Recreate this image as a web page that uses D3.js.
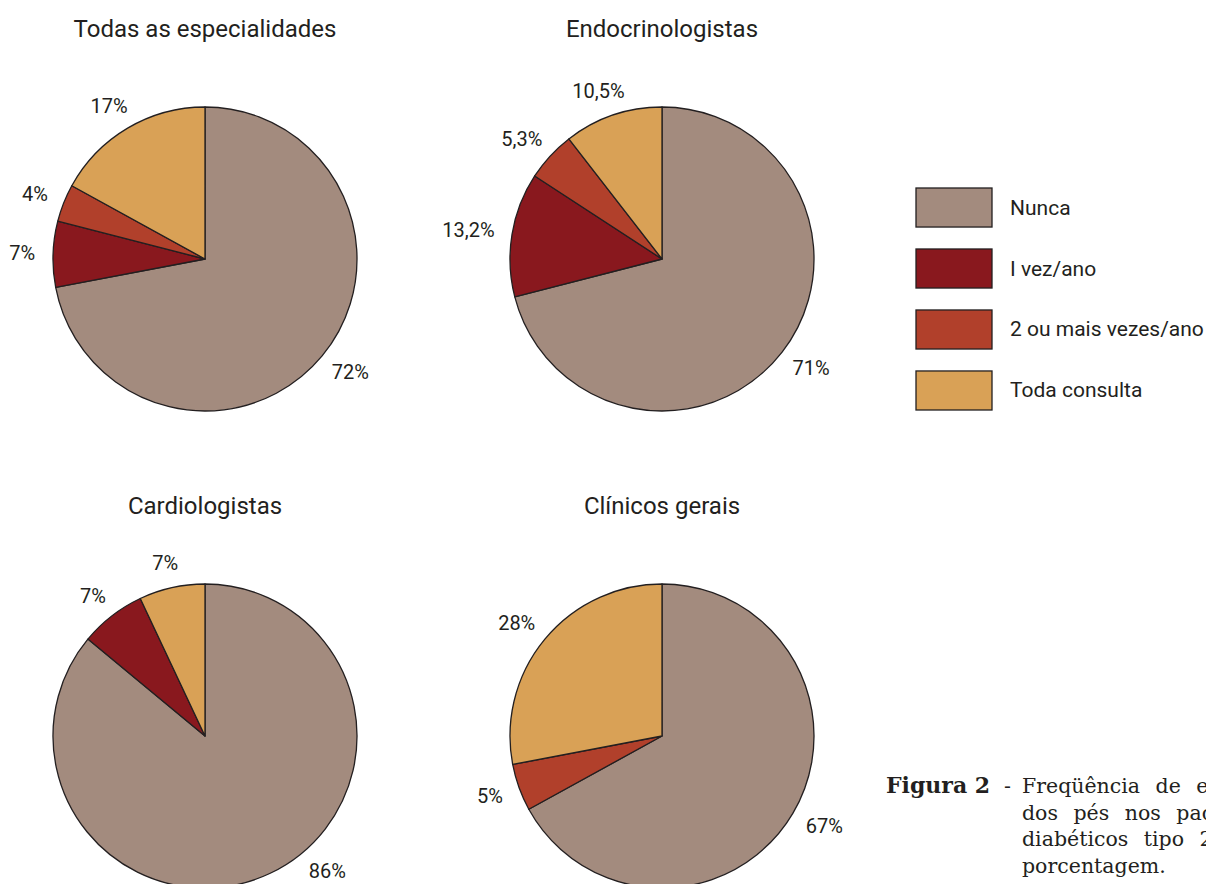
<!DOCTYPE html>
<html>
<head>
<meta charset="utf-8">
<script src="https://cdn.jsdelivr.net/npm/d3@7"></script>
<style>
  html, body { margin: 0; padding: 0; background: #fff; overflow: hidden; }
  svg { display: block; }
</style>
</head>
<body>
<svg id="chart" width="1206" height="884"></svg>
<script>
// ---- data ----
const categories = ["Nunca", "I vez/ano", "2 ou mais vezes/ano", "Toda consulta"];
const categoryColors = ["#A38B7E", "#89181E", "#B1402B", "#D9A156"];
const panelTitles = ["Todas as especialidades", "Endocrinologistas", "Cardiologistas", "Clínicos gerais"];
const valuesTodas = [72, 7, 4, 17];
const valuesEndocrino = [71, 13.2, 5.3, 10.5];
const valuesCardio = [86, 7, 0, 7];
const valuesClinicos = [67, 0, 5, 28];
const captionLabel = "Figura 2";
const captionLines = ["Freqüência de exame", "dos pés nos pacientes", "diabéticos tipo 2, em", "porcentagem."];

const panels = [valuesTodas, valuesEndocrino, valuesCardio, valuesClinicos]
  .map((v, i) => ({ title: panelTitles[i], values: v, col: i % 2, row: Math.floor(i / 2) }));

// ---- layout ----
const W = 1206, H = 884;
const svg = d3.select("#chart");
const sansFont = "Roboto, 'Liberation Sans', 'DejaVu Sans', sans-serif";
const serifFont = "'DejaVu Serif', 'Liberation Serif', serif";
const ink = "#231F20";

const xCol = d3.scalePoint().domain([0, 1]).range([205, 662]);
const yRow = d3.scalePoint().domain([0, 1]).range([259, 736]);
const radius = 152;
const labelR = 170;

const color = d3.scaleOrdinal().domain(categories).range(categoryColors);
const pie = d3.pie().sort(null).value(d => d.value);
const arc = d3.arc().innerRadius(0).outerRadius(radius);
const fmt = v => (Number.isInteger(v) ? String(v) : d3.format(".1f")(v).replace(".", ",")) + "%";

panels.forEach(p => {
  const cx = xCol(p.col), cy = yRow(p.row);
  const g = svg.append("g").attr("transform", `translate(${cx},${cy})`);

  svg.append("text")
    .attr("x", cx).attr("y", cy - 222)
    .attr("text-anchor", "middle")
    .attr("font-family", sansFont).attr("font-size", 24)
    .attr("fill", ink)
    .text(p.title);

  const data = pie(categories.map((c, i) => ({ cat: c, value: p.values[i] })));

  g.selectAll("path")
    .data(data.filter(d => d.data.value > 0))
    .join("path")
    .attr("d", arc)
    .attr("fill", d => color(d.data.cat))
    .attr("stroke", ink)
    .attr("stroke-width", 1.3)
    .attr("stroke-linejoin", "round");

  const labels = g.selectAll("text.lbl")
    .data(data.filter(d => d.data.value > 0))
    .join("text")
    .attr("class", "lbl")
    .attr("font-family", sansFont).attr("font-size", 20)
    .attr("fill", ink)
    .attr("text-anchor", "middle")
    .attr("dominant-baseline", "central")
    .text(d => fmt(d.data.value));

  const h = 15;
  const maxDy = H - 13 - cy; // keep labels inside the picture
  labels.each(function(d) {
    let a = (d.startAngle + d.endAngle) / 2;
    const w = this.getComputedTextLength();
    // rotate label toward horizontal if it would fall below the picture
    const dist = labelR + h / 2;
    if (-Math.cos(a) * dist > maxDy) {
      const c = -maxDy / dist;
      a = a < Math.PI ? Math.acos(c) : 2 * Math.PI - Math.acos(c);
    }
    const x = Math.sin(a) * labelR + (w / 2) * Math.sin(a);
    const y = -Math.cos(a) * labelR - (h / 2) * Math.cos(a);
    d3.select(this).attr("x", x).attr("y", y);
  });
});

// ---- legend ----
const legY = d3.scaleBand().domain(categories).range([188, 410]).paddingInner(0.36).paddingOuter(0);
const legend = svg.append("g");
categories.forEach(c => {
  legend.append("rect")
    .attr("x", 916).attr("y", legY(c))
    .attr("width", 76).attr("height", legY.bandwidth())
    .attr("fill", color(c))
    .attr("stroke", ink).attr("stroke-width", 1.3);
  legend.append("text")
    .attr("x", 1010).attr("y", legY(c) + legY.bandwidth() / 2)
    .attr("dominant-baseline", "central")
    .attr("font-family", sansFont).attr("font-size", 21)
    .attr("fill", ink)
    .text(c);
});

// ---- caption ----
const cap = svg.append("g").attr("font-family", serifFont).attr("font-size", 20.5).attr("fill", ink);
cap.append("text").attr("x", 886).attr("y", 793).attr("font-weight", "bold").attr("font-size", 22).text(captionLabel);
cap.append("text").attr("x", 1004).attr("y", 793).text("-");
captionLines.forEach((t, i) => {
  cap.append("text")
    .attr("x", 1022).attr("y", 793 + i * 26.7)
    .attr("word-spacing", i < 3 ? 9 : 0)
    .text(t);
});
</script>
</body>
</html>
